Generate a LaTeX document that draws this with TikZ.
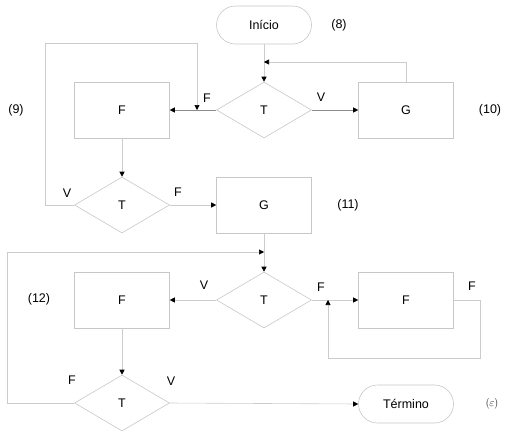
\documentclass[tikz,border=0pt]{standalone}
\usepackage{fontspec}
\setmainfont{Liberation Sans}
\newfontfamily\lmfont{Latin Modern Roman}
\usetikzlibrary{shapes.geometric,arrows.meta}
\tikzset{
  shape line/.style={draw=black!22, line width=0.6pt},
  procbox/.style={shape line, rectangle, minimum width=95pt, minimum height=56pt, inner sep=0pt, font=\fontsize{12.5}{14}\selectfont},
  decision/.style={shape line, diamond, aspect=1.696, minimum width=95pt, minimum height=56pt, inner sep=0pt, font=\fontsize{12.5}{14}\selectfont},
  terminal/.style={shape line, rectangle, rounded corners=19pt, minimum width=95pt, minimum height=38pt, inner sep=0pt, font=\fontsize{12.5}{14}\selectfont},
  lbl/.style={font=\fontsize{12.5}{14}\selectfont, inner sep=0pt},
  conn/.style={draw=black!20, line width=0.6pt},
  darkconn/.style={draw=black!45, line width=0.6pt},
  tip/.style={-{Triangle[length=5pt,width=5pt,color=black]}},
}
\begin{document}
\begin{tikzpicture}[x=1pt,y=-1pt]
\useasboundingbox (0,0) rectangle (505,431);
% nodes
\node[terminal] (ini) at (264,25) {Início};
\node[decision] (t1) at (264,110) {T};
\node[procbox] (f1) at (122,110) {F};
\node[procbox] (g1) at (406,110) {G};
\node[decision] (t2) at (122,205) {T};
\node[procbox] (g2) at (264,205) {G};
\node[decision] (t3) at (264,300) {T};
\node[procbox] (f3) at (122,300) {F};
\node[procbox] (f4) at (406,300) {F};
\node[decision] (t4) at (122,403) {T};
\node[terminal] (fim) at (406,404) {Término};
% annotations
\node[lbl] (n8) at (339,25) {(8)};
\node[lbl] (n9) at (16,110) {(9)};
\node[lbl] (n10) at (490,110) {(10)};
\node[lbl] (n11) at (348,205) {(11)};
\node[lbl] (n12) at (39,299) {(12)};
\node[inner sep=0pt, font=\lmfont\fontsize{11}{12}\selectfont, text=black!85] (neps) at (492,404) {(\kern-0.5pt$\varepsilon$\kern-0.5pt)};
% coordinates
\coordinate (j1) at (264,62);
\coordinate (j2) at (197,110);
\coordinate (j3) at (264,252);
\coordinate (j4) at (328,300);
% connectors
\draw[conn] (ini.south) -- (j1);
\draw[conn,tip] (j1) -- (t1.north);
\draw[conn,tip] (g1.north) |- (j1);
\draw[darkconn,tip] (t1.west) -- (f1.east);
\draw[darkconn,tip] (t1.east) -- (g1.west);
\draw[conn,tip] (t2.west) -- (45,205) -- (45,43) -| (j2);
\draw[conn,tip] (f1.south) -- (t2.north);
\draw[conn,tip] (t2.east) -- (g2.west);
\draw[conn] (g2.south) -- (j3);
\draw[conn,tip] (j3) -- (t3.north);
\draw[conn,tip] (t4.west) -- (7,403) |- (j3);
\draw[conn,tip] (t3.west) -- (f3.east);
\draw[conn,tip] (t3.east) -- (f4.west);
\draw[conn,tip] (f4.east) -- (480,300) -- (480,358) -| (j4);
\draw[conn,tip] (f3.south) -- (t4.north);
\draw[conn,tip] (t4.east) -- (fim.west);
% branch labels
\node[lbl] (lf1) at (207,98) {F};
\node[lbl] (lv1) at (321,97) {V};
\node[lbl] (lv2) at (67,193) {V};
\node[lbl] (lf2) at (178,192) {F};
\node[lbl] (lv3) at (204,285) {V};
\node[lbl] (lf3) at (321,287) {F};
\node[lbl] (lf4) at (472,286) {F};
\node[lbl] (lf5) at (72,380) {F};
\node[lbl] (lv5) at (171,381) {V};
\end{tikzpicture}
\end{document}
